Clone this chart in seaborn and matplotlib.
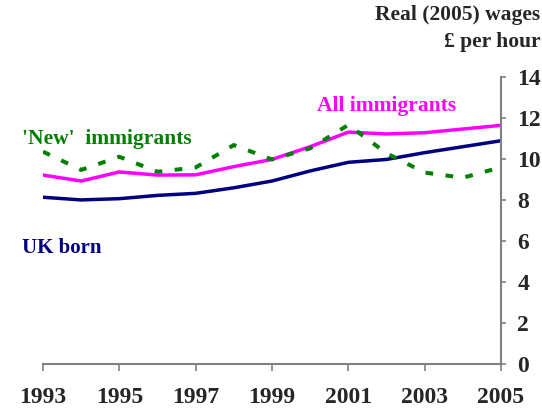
import numpy as np
import pandas as pd
import matplotlib
matplotlib.use("Agg")
import matplotlib.pyplot as plt
import seaborn as sns

years = list(range(1993, 2006))
uk_born = [8.13, 8.0, 8.06, 8.22, 8.32, 8.59, 8.92, 9.41, 9.83, 9.97, 10.3, 10.59, 10.88]
all_immigrants = [9.21, 8.92, 9.36, 9.21, 9.22, 9.62, 9.97, 10.59, 11.3, 11.21, 11.27, 11.45, 11.63]
new_immigrants = [10.35, 9.46, 10.1, 9.37, 9.58, 10.67, 9.97, 10.51, 11.65, 10.27, 9.33, 9.08, 9.59]

series_names = ["UK born", "All immigrants", "'New'  immigrants"]
series_colors = ["#000080", "#FF00FF", "#008000"]

df = pd.DataFrame({
    "Year": years * 3,
    "Wage": uk_born + all_immigrants + new_immigrants,
    "Group": [series_names[0]] * 13 + [series_names[1]] * 13 + [series_names[2]] * 13,
})

sns.set_style("white")
plt.rcParams["font.family"] = ["Liberation Serif", "DejaVu Serif"]
plt.rcParams["font.weight"] = "bold"

fig = plt.figure(figsize=(5.42, 4.12), dpi=100)
ax = fig.add_axes([0.0793, 0.1158, 0.8451, 0.6982])

sns.lineplot(data=df, x="Year", y="Wage", hue="Group", style="Group",
             palette=dict(zip(series_names, series_colors)),
             dashes={series_names[0]: "", series_names[1]: "",
                     series_names[2]: (1.9, 3.1)},
             linewidth=2.5, legend=False, ax=ax)
ax.lines[2].set_linewidth(2.9)

ax.set_xlim(1993, 2005)
ax.set_ylim(0, 14)
ax.set_xticks(years[::2])
ax.set_yticks(range(0, 15, 2))
ax.yaxis.tick_right()
ax.set_xlabel("")
ax.set_ylabel("")

for side in ["top", "left"]:
    ax.spines[side].set_visible(False)
for side in ["bottom", "right"]:
    ax.spines[side].set_color("#808080")
    ax.spines[side].set_linewidth(1.5)

ax.tick_params(axis="x", direction="out", length=5, width=1.2, color="#808080",
               labelsize=17, pad=11, bottom=True)
ax.tick_params(axis="y", direction="out", length=3.6, width=1.2, color="#808080",
               labelsize=17, pad=8, right=True)
for lab in ax.get_xticklabels() + ax.get_yticklabels():
    lab.set_fontweight("bold")

# series labels
ax.text(1992.46, 5.66, "UK born", color=series_colors[0], fontsize=15,
        fontweight="bold", ha="left", va="center")
ax.text(2000.17, 12.57, "All immigrants", color=series_colors[1], fontsize=15.5,
        fontweight="bold", ha="left", va="center")
ax.text(1992.46, 10.97, "'New'  immigrants", color=series_colors[2], fontsize=15.5,
        fontweight="bold", ha="left", va="center")

fig.text(0.997, 0.9636, "Real (2005) wages", ha="right", va="center",
         fontsize=15.5, fontweight="bold")
fig.text(0.997, 0.8988, "£ per hour", ha="right", va="center",
         fontsize=15.5, fontweight="bold")

fig.savefig("out.png", dpi=100)
